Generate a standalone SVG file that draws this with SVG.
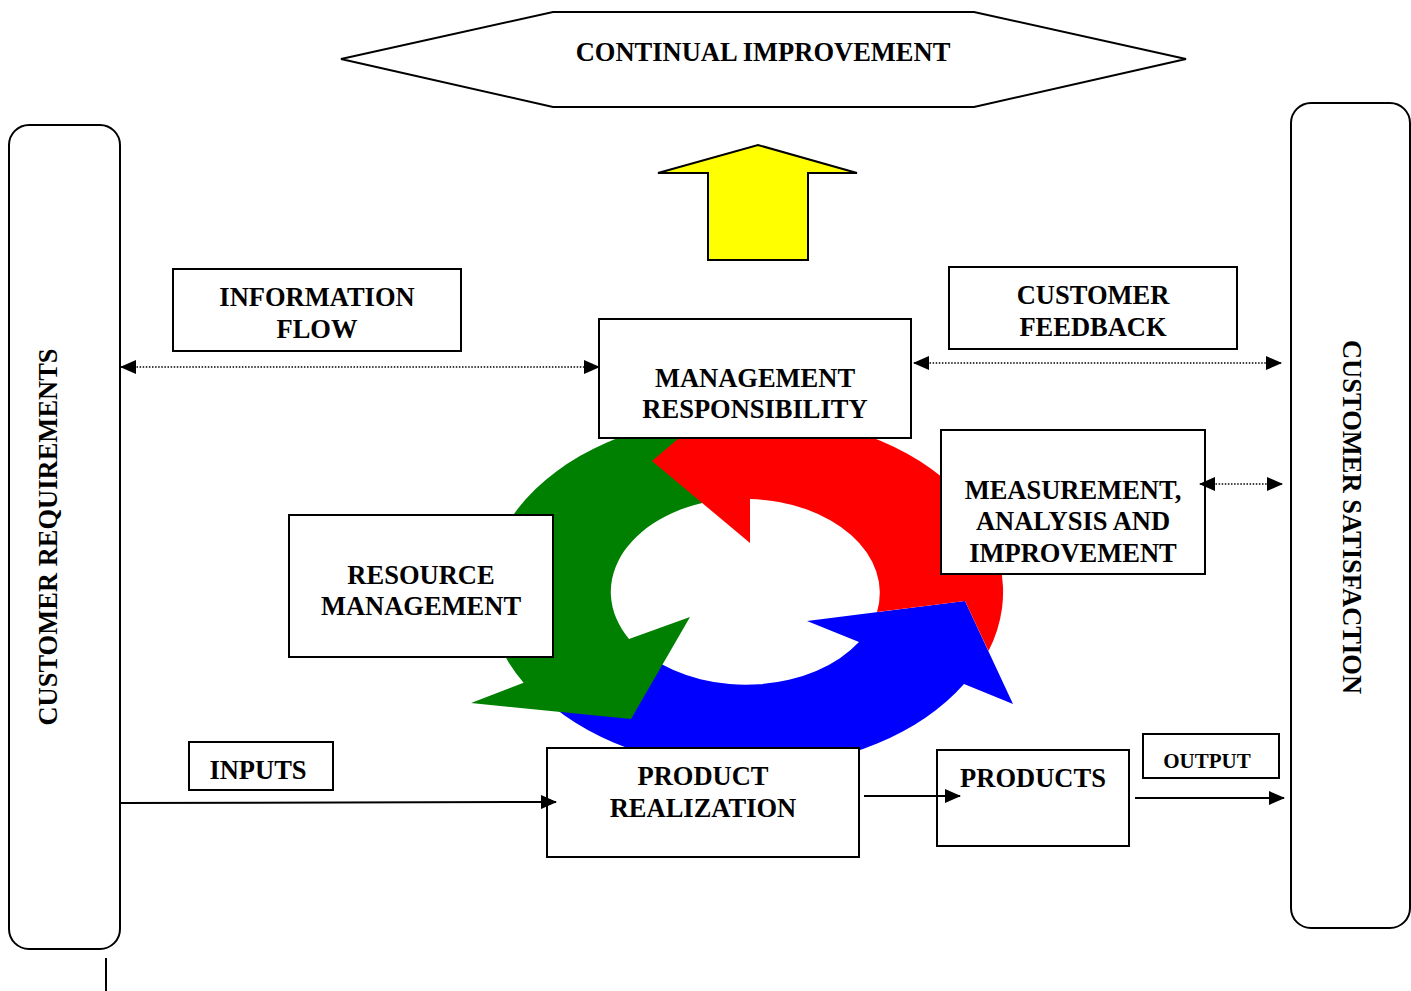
<svg xmlns="http://www.w3.org/2000/svg" width="1411" height="991" viewBox="0 0 1411 991">
  <style>
    .box { fill: #fff; stroke: #000; stroke-width: 2; }
    .lbl { font-family: "Liberation Serif", "Times New Roman", serif; font-weight: bold; font-size: 26.5px; fill: #000; text-anchor: middle; }
    .small { font-size: 21px; }
    .dot { fill: none; stroke: #000; stroke-width: 1.4; stroke-dasharray: 1.5 1.6; }
    .solid { fill: none; stroke: #000; stroke-width: 2; }
  </style>
  <defs>
    <marker id="head" viewBox="0 0 16 14" refX="15" refY="7" markerWidth="16" markerHeight="14" markerUnits="userSpaceOnUse" orient="auto-start-reverse">
      <path d="M0,0 L16,7 L0,14 Z" fill="#000"/>
    </marker>
  </defs>
  <rect width="1411" height="991" fill="#fff"/>

  <!-- continual improvement banner and upward arrow -->
  <g id="continual-improvement">
    <polygon points="341,59 553,12 974,12 1186,59 974,107 553,107" class="box"/>
    <text x="763" y="61" class="lbl">CONTINUAL IMPROVEMENT</text>
  </g>
  <g id="improvement-arrow">
    <polygon points="658,173 758,145 857,173 808,173 808,260 708,260 708,173" fill="#ffff00" stroke="#000" stroke-width="2" stroke-linejoin="miter"/>
  </g>

  <!-- side columns -->
  <g id="customer-requirements">
    <rect x="9" y="125" width="111" height="824" rx="20" class="box"/>
    <text transform="translate(57,537) rotate(-90)" class="lbl">CUSTOMER REQUIREMENTS</text>
  </g>
  <g id="customer-satisfaction">
    <rect x="1291" y="103" width="119" height="825" rx="20" class="box"/>
    <text transform="translate(1343,517) rotate(90)" class="lbl">CUSTOMER SATISFACTION</text>
  </g>

  <!-- process cycle: three curved arrows -->
  <g id="cycle">
    <path fill="#0000ff" d="M650,657 L545,700 A255,177 0 0 0 964,684 L1013,704 L965,601 L807,621 L859,642 A135,94 0 0 1 650,657 Z"/>
    <path fill="#008000" d="M730,415.4 A255,177 0 0 0 523.6,682.7 L471,703 L631,719 L690,617 L629,639 A135,94 0 0 1 725,499 Z"/>
    <path fill="#ff0000" d="M877,612 L965,601 L988.5,651 A255,177 0 0 0 730,415.4 L712,410 L652,461 L750,543 L750,499 A135,94 0 0 1 877,612 Z"/>
  </g>

  <!-- process boxes -->
  <g id="information-flow">
    <rect x="173" y="269" width="288" height="82" class="box"/>
    <text x="317" y="306" class="lbl">INFORMATION</text>
    <text x="317" y="338" class="lbl">FLOW</text>
  </g>
  <g id="customer-feedback">
    <rect x="949" y="267" width="288" height="82" class="box"/>
    <text x="1093" y="304" class="lbl">CUSTOMER</text>
    <text x="1093" y="336" class="lbl">FEEDBACK</text>
  </g>
  <g id="management-responsibility">
    <rect x="599" y="319" width="312" height="119" class="box"/>
    <text x="755" y="387" class="lbl">MANAGEMENT</text>
    <text x="755" y="418" class="lbl">RESPONSIBILITY</text>
  </g>
  <g id="measurement">
    <rect x="941" y="430" width="264" height="144" class="box"/>
    <text x="1073" y="499" class="lbl">MEASUREMENT,</text>
    <text x="1073" y="530" class="lbl">ANALYSIS AND</text>
    <text x="1073" y="562" class="lbl">IMPROVEMENT</text>
  </g>
  <g id="resource-management">
    <rect x="289" y="515" width="264" height="142" class="box"/>
    <text x="421" y="584" class="lbl">RESOURCE</text>
    <text x="421" y="615" class="lbl">MANAGEMENT</text>
  </g>
  <g id="inputs">
    <rect x="189" y="742" width="144" height="48" class="box"/>
    <text x="258" y="779" class="lbl">INPUTS</text>
  </g>
  <g id="product-realization">
    <rect x="547" y="748" width="312" height="109" class="box"/>
    <text x="703" y="785" class="lbl">PRODUCT</text>
    <text x="703" y="817" class="lbl">REALIZATION</text>
  </g>
  <g id="products">
    <rect x="937" y="750" width="192" height="96" class="box"/>
    <text x="1033" y="787" class="lbl">PRODUCTS</text>
  </g>
  <g id="output">
    <rect x="1143" y="734" width="136" height="44" class="box"/>
    <text x="1207" y="767.5" class="lbl small">OUTPUT</text>
  </g>

  <!-- connectors -->
  <g id="connectors">
    <line x1="121" y1="367" x2="599" y2="367" class="dot" marker-start="url(#head)" marker-end="url(#head)"/>
    <line x1="914" y1="363" x2="1281" y2="363" class="dot" marker-start="url(#head)" marker-end="url(#head)"/>
    <line x1="1200" y1="484" x2="1282" y2="484" class="dot" marker-start="url(#head)" marker-end="url(#head)"/>
    <line x1="120" y1="803" x2="556" y2="802" class="solid" marker-end="url(#head)"/>
    <line x1="864" y1="796" x2="960" y2="796" class="solid" marker-end="url(#head)"/>
    <line x1="1135" y1="798" x2="1284" y2="798" class="solid" marker-end="url(#head)"/>
    <line x1="106" y1="958" x2="106" y2="991" class="solid"/>
  </g>
</svg>
